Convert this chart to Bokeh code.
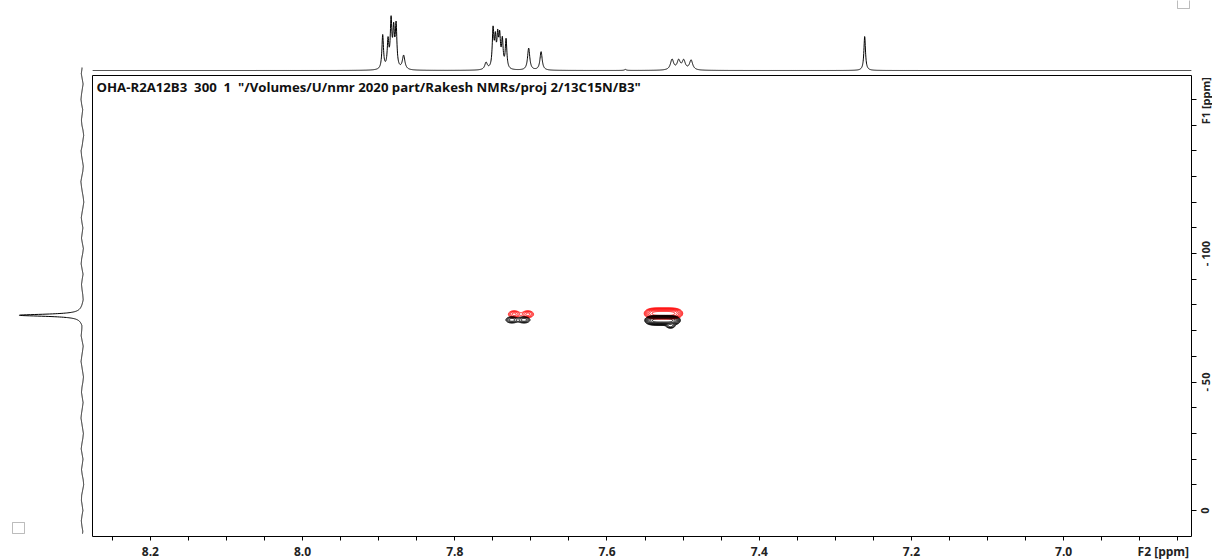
import numpy as np
from bokeh.plotting import figure
from bokeh.models import Range1d, FixedTicker, Label, BoxAnnotation
from bokeh.core.properties import value
from bokeh.layouts import row, column
from bokeh.embed import file_html
from bokeh.resources import INLINE

# ---------------- data ----------------
# 1H (F2) projection: peak positions [ppm], heights, line widths [ppm]
h_ppm = [7.8947, 7.8877, 7.8837, 7.8803, 7.8771, 7.8672,
         7.7589, 7.7497, 7.7467, 7.7436, 7.7410, 7.7375, 7.7326,
         7.7029, 7.6866, 7.5758,
         7.5145, 7.5058, 7.4992, 7.4895,
         7.2614]
h_height = [34, 27, 46, 36, 42, 14,
            7, 38, 27, 29, 29, 27, 29,
            22, 18.5, 1,
            10.5, 9.2, 9.2, 9.8,
            34]
h_fwhm = [0.0025, 0.0025, 0.0025, 0.0025, 0.0025, 0.004,
          0.004, 0.0025, 0.0025, 0.0025, 0.0025, 0.0025, 0.0025,
          0.0035, 0.0035, 0.003,
          0.005, 0.005, 0.005, 0.005,
          0.0025]

# 13C (F1) projection: one peak plus the baseline wander
c_ppm = [76.0]
c_height = [62]
c_fwhm = [1.0]
c_base_off = [0.5, 1.2, 0.3, -0.6, 0.2, 1.0, 1.5, 0.8, -0.2, 0.4, 1.1, 0.6, -0.5, -1.2,
              -0.4, 0.3, 1.4, 0.9, 0.0, -0.8, -0.3, 0.7, 1.6, 1.0, 0.2, -0.7, -1.3, -0.5,
              0.4, 1.2, 0.5, -0.4, 0.3, 1.0, 0.1, -0.9, -0.2, 0.8, 1.3, 0.4, -0.6, 0.2,
              0.9, 0.3, -0.5, -1.1, -0.3, 0.6, 1.2, 0.5, -0.3, 0.4, 1.1, 0.2, -0.8, -0.1,
              0.7, 1.4, 0.6, -0.2, -1.0, -0.4, 0.5, 1.0, 0.2, -0.6, 0.1, 0.9, 1.5, 0.7,
              -0.1, -0.9, -0.3, 0.6, 1.3, 0.4, -0.5, 0.2, 1.0, 0.3, -0.7, -1.2, -0.2, 0.8,
              1.1, 0.3, -0.4, 0.5, 1.2, 0.6, -0.3, 0.2, 0.8]

# cross peaks: positive (black) and negative (red) components
pos_f2 = [7.5270, 7.5165, 7.7250, 7.7090]
pos_f1 = [74.0, 71.8, 74.2, 74.2]
pos_amp = [14.0, 3.0, 3.5, 3.5]
pos_wf2 = [0.0184, 0.005, 0.007, 0.007]
pos_wf1 = [1.2, 0.8, 1.1, 1.1]
pos_pow = [4, 2, 2, 2]

neg_f2 = [7.5258, 7.7220, 7.7040]
neg_f1 = [76.7, 76.4, 76.4]
neg_amp = [10.0, 3.2, 3.2]
neg_wf2 = [0.0205, 0.007, 0.007]
neg_wf1 = [1.45, 1.25, 1.25]
neg_pow = [4, 2, 2]

# axis ticks and labels
x_label_pos = [8.2, 8.0, 7.8, 7.6, 7.4, 7.2, 7.0, 6.869]
x_label_txt = ["8.2", "8.0", "7.8", "7.6", "7.4", "7.2", "7.0", "F2 [ppm]"]
x_ticks = [8.25, 8.2, 8.15, 8.1, 8.05, 8.0, 7.95, 7.9, 7.85, 7.8, 7.75, 7.7, 7.65, 7.6,
           7.55, 7.5, 7.45, 7.4, 7.35, 7.3, 7.25, 7.2, 7.15, 7.1, 7.05, 7.0, 6.95, 6.9, 6.85]
y_label_pos = [0, 50, 100, 159.5]
y_label_txt = ["0", "- 50", "- 100", "F1 [ppm]"]
y_ticks = [0, 10, 20, 30, 40, 50, 60, 70, 80, 90, 100, 110, 120, 130, 140, 150, 160]

title = "OHA-R2A12B3\u00a0\u00a0300\u00a0\u00a01\u00a0\u00a0\"/Volumes/U/nmr 2020 part/Rakesh NMRs/proj 2/13C15N/B3\""

# ---------------- geometry ----------------
FRAME_W, FRAME_H = 1099, 461      # 2D plane
LEFT_W, TOP_H = 92, 75            # projections
TICK_X, TICK_Y = 5, 6             # room for the tick marks
LAB_H = 560 - TOP_H - FRAME_H - TICK_X
RIGHT_W = 1212 - LEFT_W - FRAME_W - TICK_Y

X0, X1 = 8.276, 6.832
Y0, Y1 = -10.1, 169.3
ppx = (Y1 - Y0) / FRAME_H
YFULL0, YFULL1 = Y0 - (560 - TOP_H - FRAME_H) * ppx, Y1 + TOP_H * ppx

FONT = "Open Sans"

# ---------------- derived traces ----------------
def lorentz_sum(axis, centres, heights, widths):
    out = np.zeros_like(axis)
    for c, h, w in zip(centres, heights, widths):
        out += h / (1.0 + ((axis - c) / (w / 2.0)) ** 2)
    return out

f2 = np.linspace(X0, X1, 7200)
f2_trace = lorentz_sum(f2, h_ppm, h_height, h_fwhm)

f1 = np.linspace(172.4, -9.0, 3600)
base_pos = np.linspace(172.0, -12.0, len(c_base_off))
f1_trace = lorentz_sum(f1, c_ppm, c_height, c_fwhm) + np.interp(f1, base_pos[::-1], np.array(c_base_off)[::-1])

cx = np.linspace(7.46, 7.79, 661)
cy = np.linspace(64.0, 86.0, 221)
GX, GY = np.meshgrid(cx, cy)

def field(f2s, f1s, amps, w2s, w1s, pows):
    z = np.zeros_like(GX)
    for a, b, A, w2, w1, pw in zip(f2s, f1s, amps, w2s, w1s, pows):
        z += A * np.exp(-np.abs((GX - a) / w2) ** pw - ((GY - b) / w1) ** 2)
    return z

z_pos = field(pos_f2, pos_f1, pos_amp, pos_wf2, pos_wf1, pos_pow)
z_neg = field(neg_f2, neg_f1, neg_amp, neg_wf2, neg_wf1, neg_pow)
levels = [1.4 ** k for k in range(10)]

xr = Range1d(X0, X1)

def bare(**kw):
    p = figure(output_backend="svg", toolbar_location=None,
               min_border_left=0, min_border_top=0, min_border_bottom=0,
               **kw)
    p.grid.visible = False
    p.outline_line_color = None
    return p

# ---------------- 2D plane ----------------
main = bare(width=FRAME_W + TICK_Y, height=FRAME_H + TICK_X, x_range=xr,
            y_range=Range1d(Y0, Y1), x_axis_location="below", y_axis_location="right",
            min_border_right=TICK_Y)
main.min_border_bottom = TICK_X
main.outline_line_color = "black"
main.outline_line_width = 1

main.contour(x=cx, y=cy, z=z_neg, levels=levels, line_color="#ff0000", line_width=1)
main.contour(x=cx, y=cy, z=z_pos, levels=levels, line_color="black", line_width=1)

for ax, ticks, out in ((main.xaxis[0], x_ticks, 4), (main.yaxis[0], y_ticks, 5)):
    ax.ticker = FixedTicker(ticks=[], minor_ticks=ticks)
    ax.major_tick_in = 0
    ax.major_tick_out = out
    ax.minor_tick_in = 0
    ax.minor_tick_out = out
    ax.minor_tick_line_color = "black"
    ax.axis_line_color = None
    ax.major_label_standoff = 0

main.add_layout(Label(x=4, y=FRAME_H - 2, x_units="screen", y_units="screen", text=title,
                      text_baseline="top", text_font=FONT, text_font_style="bold",
                      text_font_size="13.2px", text_color="#111111"))

# ---------------- F2 tick labels (below) ----------------
bottom = bare(width=FRAME_W + TICK_Y, height=LAB_H, x_range=xr, y_range=Range1d(0, LAB_H),
              x_axis_location=None, y_axis_location=None, min_border_right=TICK_Y)
bottom.text(x=x_label_pos, y=[9.5] * len(x_label_pos), text=x_label_txt,
            text_align="center", text_baseline="middle", text_font=value(FONT),
            text_font_style="bold", text_font_size="12px", text_color="#222222")

# ---------------- F1 tick labels (right) ----------------
right = bare(width=RIGHT_W, height=560, x_range=Range1d(0, RIGHT_W),
             y_range=Range1d(YFULL0, YFULL1), x_axis_location=None, y_axis_location=None,
             min_border_right=0)
right.text(x=[7.5] * len(y_label_pos), y=y_label_pos, text=y_label_txt,
           angle=np.pi / 2, text_align="center", text_baseline="middle",
           text_font=value(FONT), text_font_style="bold", text_font_size="11px",
           text_color="#222222")

# ---------------- F2 projection (top) ----------------
top = bare(width=FRAME_W + TICK_Y, height=TOP_H, x_range=xr, y_range=Range1d(-5, 70),
           x_axis_location=None, y_axis_location=None, min_border_right=TICK_Y)
top.line(f2, f2_trace, line_color="black", line_width=1)
top.add_layout(BoxAnnotation(left=1085, right=1097, bottom=TOP_H - 8, top=TOP_H + 5,
                             left_units="screen", right_units="screen",
                             bottom_units="screen", top_units="screen",
                             fill_color=None, line_color="#222222", line_width=1))

# ---------------- F1 projection (left) ----------------
left = bare(width=LEFT_W, height=560, x_range=Range1d(82, -10),
            y_range=Range1d(YFULL0, YFULL1), x_axis_location=None, y_axis_location=None,
            min_border_right=0)
left.line(f1_trace, f1, line_color="black", line_width=1)
left.add_layout(BoxAnnotation(left=12, right=24, bottom=27, top=38,
                              left_units="screen", right_units="screen",
                              bottom_units="screen", top_units="screen",
                              fill_color=None, line_color="#222222", line_width=1))

layout = row(left, column(top, main, bottom), right)
open("out.html", "w").write(file_html(layout, INLINE))
